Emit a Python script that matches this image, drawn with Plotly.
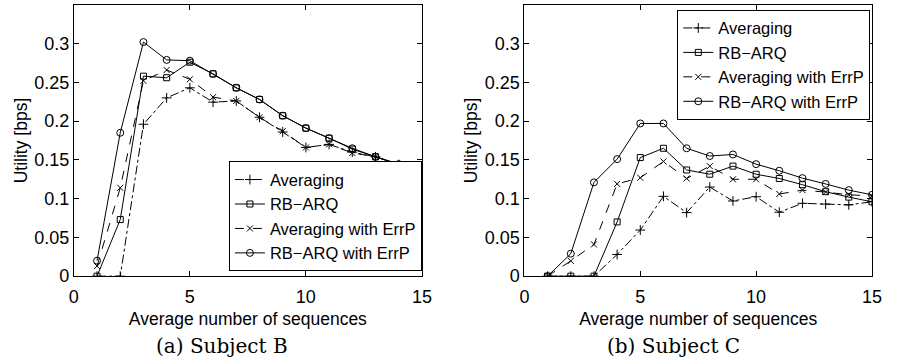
import plotly.graph_objects as go

x_vals = list(range(1, 16))

# Subject B
b_avg = [0, 0, 0.196, 0.230, 0.243, 0.2245, 0.226, 0.205, 0.186, 0.166, 0.170, 0.160, 0.154, 0.144, 0.136]
b_rbarq = [0, 0.073, 0.258, 0.256, 0.276, 0.261, 0.243, 0.228, 0.207, 0.191, 0.178, 0.164, 0.154, 0.144, 0.136]
b_avg_errp = [0.013, 0.114, 0.252, 0.266, 0.254, 0.231, 0.226, 0.205, 0.187, 0.166, 0.170, 0.159, 0.154, 0.144, 0.136]
b_rbarq_errp = [0.020, 0.185, 0.302, 0.279, 0.278, 0.261, 0.243, 0.228, 0.207, 0.191, 0.178, 0.165, 0.154, 0.1445, 0.136]

# Subject C
c_avg = [0, 0, 0, 0.028, 0.0595, 0.103, 0.082, 0.115, 0.097, 0.1025, 0.0825, 0.094, 0.093, 0.092, 0.096]
c_rbarq = [0, 0, 0, 0.070, 0.153, 0.165, 0.137, 0.1315, 0.142, 0.1315, 0.126, 0.118, 0.109, 0.102, 0.096]
c_avg_errp = [0, 0.0197, 0.041, 0.119, 0.127, 0.148, 0.126, 0.142, 0.125, 0.125, 0.106, 0.111, 0.1085, 0.105, 0.1035]
c_rbarq_errp = [0, 0.029, 0.121, 0.151, 0.197, 0.197, 0.165, 0.155, 0.157, 0.1445, 0.136, 0.1265, 0.119, 0.111, 0.105]

series_names = ["Averaging", "RB\u2212ARQ", "Averaging with ErrP", "RB\u2212ARQ with ErrP"]
y_ticks = [0, 0.05, 0.1, 0.15, 0.2, 0.25, 0.3]
y_tick_text = ["0", "0.05", "0.1", "0.15", "0.2", "0.25", "0.3"]
x_ticks = [0, 5, 10, 15]
captions = ["(a) Subject B", "(b) Subject C"]
x_title = "Average number of sequences"
y_title = "Utility [bps]"

styles = [
    dict(dash="dashdot", symbol="cross-thin-open", size=7),
    dict(dash="solid", symbol="square-open", size=6),
    dict(dash="dash", symbol="x-thin-open", size=6),
    dict(dash="solid", symbol="circle-open", size=7),
]

W, H = 897, 363
FONT = "Liberation Sans, Arial, sans-serif"
FS_TICK = 18
FS_TITLE = 17.5
FS_LEG = 16.5

fig = go.Figure()

panels = [
    ([b_avg, b_rbarq, b_avg_errp, b_rbarq_errp], "x", "y", "legend"),
    ([c_avg, c_rbarq, c_avg_errp, c_rbarq_errp], "x2", "y2", "legend2"),
]
for data, xa, ya, lg in panels:
    for name, vals, st in zip(series_names, data, styles):
        fig.add_trace(go.Scatter(
            x=x_vals, y=vals, name=name, mode="lines+markers",
            xaxis=xa, yaxis=ya, legend=lg,
            line=dict(color="black", width=1, dash=st["dash"]),
            marker=dict(symbol=st["symbol"], size=st["size"], color="black",
                        line=dict(color="black", width=1)),
        ))

def xaxis(domain, anchor):
    return dict(domain=domain, anchor=anchor, range=[0, 15], tickvals=x_ticks,
                ticks="inside", ticklen=5, tickwidth=1, tickcolor="black",
                showline=True, linecolor="black", linewidth=1, mirror="ticks",
                showgrid=False, zeroline=False, ticklabelstandoff=4,
                tickfont=dict(family=FONT, size=FS_TICK, color="black"),
                title=dict(text=x_title, standoff=6,
                           font=dict(family=FONT, size=FS_TITLE, color="black")))

def yaxis(domain, anchor):
    return dict(domain=domain, anchor=anchor, range=[0, 0.35], tickvals=y_ticks,
                ticktext=y_tick_text,
                ticks="inside", ticklen=5, tickwidth=1, tickcolor="black",
                showline=True, linecolor="black", linewidth=1, mirror="ticks",
                showgrid=False, zeroline=False,
                tickfont=dict(family=FONT, size=FS_TICK, color="black"),
                title=dict(text=y_title, standoff=2,
                           font=dict(family=FONT, size=FS_TITLE, color="black")))

ydom = [1 - 284 / H, 1 - 5 / H]
legend_common = dict(bgcolor="white", bordercolor="black", borderwidth=1,
                     font=dict(family=FONT, size=FS_LEG, color="black"),
                     tracegroupgap=0, itemwidth=30)

fig.update_layout(
    width=W, height=H, margin=dict(l=0, r=0, t=0, b=0),
    paper_bgcolor="white", plot_bgcolor="white",
    xaxis=xaxis([70 / W, 424 / W], "y"),
    yaxis=yaxis(ydom, "x"),
    xaxis2=xaxis([528.3 / W, 881.7 / W], "y2"),
    yaxis2=yaxis(ydom, "x2"),
    legend=dict(x=424 / W, xanchor="right", y=1 - 279 / H, yanchor="bottom", **legend_common),
    legend2=dict(x=880 / W, xanchor="right", y=1 - 10 / H, yanchor="top", **legend_common),
    showlegend=True,
)

for cx, txt in zip([221 / W, 680 / W], captions):
    fig.add_annotation(x=cx, y=1 - 356 / H, xref="paper", yref="paper",
                       text=txt, showarrow=False, xanchor="center", yanchor="middle",
                       font=dict(family="DejaVu Serif, serif", size=20, color="black"))

fig.write_html("out.html")
